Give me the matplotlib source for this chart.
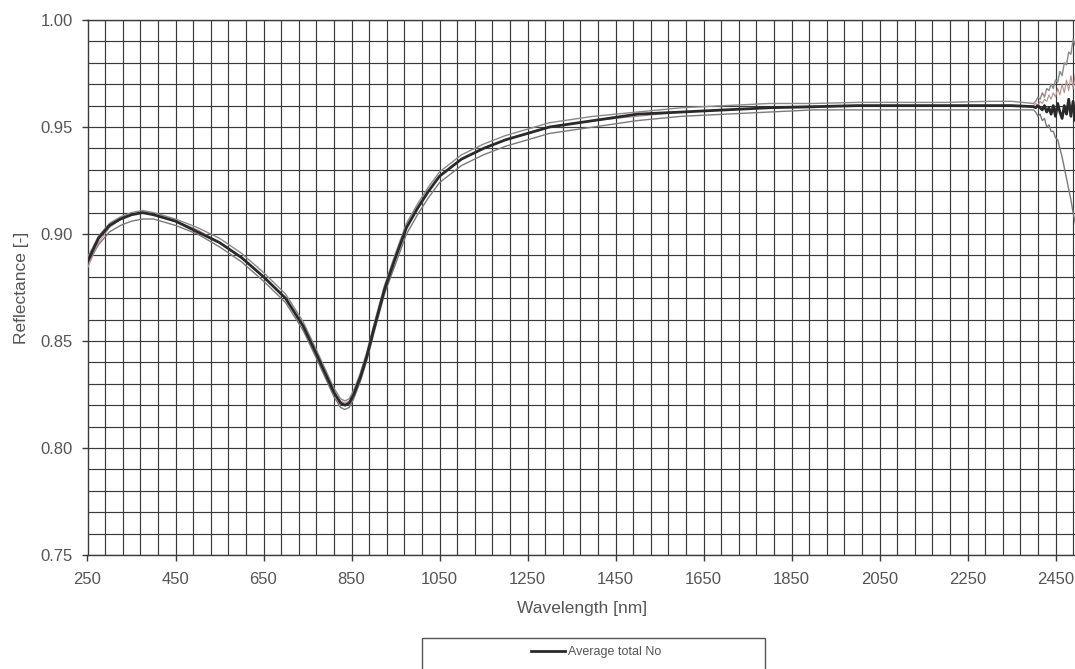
import matplotlib
matplotlib.use("Agg")
import matplotlib.pyplot as plt
from matplotlib.patches import Rectangle
from matplotlib.ticker import MultipleLocator, FixedLocator

plt.rcParams['font.family'] = ['Liberation Sans', 'DejaVu Sans']

# ---------------- data ----------------
wavelength_nm = [250, 275, 300, 325, 350, 375, 400, 450, 500, 550, 600, 650, 700,
                 740, 770, 790, 810, 825, 835, 845, 855, 870, 885, 900, 925, 950,
                 975, 1000, 1025, 1050, 1100, 1150, 1200, 1250, 1300, 1400, 1500,
                 1600, 1700, 1800, 1900, 2000, 2100, 2200, 2300, 2350,
                 2400, 2405, 2410, 2415, 2420, 2425, 2430, 2435, 2440, 2445, 2450,
                 2455, 2460, 2465, 2470, 2475, 2480, 2485, 2490, 2495, 2500]

sample_upper = [0.889, 0.899, 0.905, 0.908, 0.910, 0.911, 0.910, 0.907, 0.903, 0.898,
                0.891, 0.882, 0.872, 0.859, 0.846, 0.837, 0.828, 0.823, 0.822, 0.823,
                0.827, 0.835, 0.845, 0.857, 0.876, 0.891, 0.905, 0.914, 0.922, 0.929,
                0.937, 0.942, 0.946, 0.949, 0.952, 0.955, 0.957, 0.959, 0.960, 0.961,
                0.961, 0.9615, 0.9615, 0.9615, 0.962, 0.962,
                0.961, 0.962, 0.964, 0.963, 0.966, 0.964, 0.968, 0.967, 0.970, 0.968,
                0.972, 0.971, 0.976, 0.974, 0.980, 0.979, 0.985, 0.984, 0.991, 0.988, 0.993]

sample_lower = [0.886, 0.895, 0.901, 0.904, 0.906, 0.907, 0.907, 0.904, 0.900, 0.894,
                0.887, 0.878, 0.868, 0.855, 0.842, 0.833, 0.824, 0.819, 0.818, 0.819,
                0.823, 0.831, 0.841, 0.853, 0.872, 0.886, 0.900, 0.909, 0.917, 0.924,
                0.932, 0.937, 0.941, 0.944, 0.947, 0.950, 0.953, 0.955, 0.956, 0.957,
                0.958, 0.958, 0.958, 0.958, 0.958, 0.958,
                0.958, 0.957, 0.955, 0.956, 0.953, 0.954, 0.950, 0.951, 0.948, 0.948,
                0.945, 0.944, 0.940, 0.936, 0.931, 0.926, 0.921, 0.916, 0.910, 0.905, 0.900]

sample_red = [0.884, 0.896, 0.903, 0.907, 0.909, 0.910, 0.909, 0.906, 0.902, 0.896,
              0.889, 0.880, 0.870, 0.857, 0.844, 0.835, 0.826, 0.822, 0.821, 0.822,
              0.826, 0.834, 0.844, 0.856, 0.874, 0.889, 0.903, 0.912, 0.920, 0.927,
              0.935, 0.940, 0.944, 0.947, 0.950, 0.953, 0.955, 0.957, 0.958, 0.959,
              0.959, 0.960, 0.960, 0.960, 0.960, 0.960,
              0.960, 0.961, 0.960, 0.962, 0.961, 0.963, 0.962, 0.965, 0.963, 0.966,
              0.964, 0.968, 0.965, 0.970, 0.966, 0.972, 0.967, 0.974, 0.968, 0.975, 0.969]

average_total_no = [0.887, 0.898, 0.904, 0.907, 0.909, 0.910, 0.909, 0.906, 0.901, 0.896,
                    0.889, 0.880, 0.870, 0.857, 0.844, 0.835, 0.826, 0.821, 0.820, 0.821,
                    0.825, 0.833, 0.843, 0.855, 0.874, 0.889, 0.903, 0.912, 0.920, 0.927,
                    0.935, 0.940, 0.944, 0.947, 0.950, 0.953, 0.956, 0.957, 0.958, 0.959,
                    0.9595, 0.960, 0.960, 0.960, 0.960, 0.960,
                    0.9595, 0.959, 0.960, 0.959, 0.958, 0.960, 0.957, 0.959, 0.956, 0.960,
                    0.955, 0.961, 0.957, 0.954, 0.960, 0.956, 0.963, 0.955, 0.962, 0.953, 0.958]

x_ticks = [250, 450, 650, 850, 1050, 1250, 1450, 1650, 1850, 2050, 2250, 2450]
y_ticks = [0.75, 0.80, 0.85, 0.90, 0.95, 1.00]
legend_label = "Average total No"

# ---------------- figure ----------------
W, H = 1075, 669
fig = plt.figure(figsize=(W / 100, H / 100), dpi=100)
fig.patch.set_facecolor('white')

left_px, right_px, top_px, bottom_px = 87.5, 1077.5, 20, 555
ax = fig.add_axes([left_px / W, 1 - bottom_px / H,
                   (right_px - left_px) / W, (bottom_px - top_px) / H])

grid_c = '#3a3a3a'
text_c = '#555555'

ax.set_xlim(250, 2500)
ax.set_ylim(0.75, 1.00)

ax.xaxis.set_major_locator(FixedLocator(x_ticks))
ax.xaxis.set_minor_locator(MultipleLocator(40, offset=10))
ax.yaxis.set_major_locator(FixedLocator(y_ticks))
ax.yaxis.set_minor_locator(MultipleLocator(0.01))
ax.set_yticklabels([f"{v:.2f}" for v in y_ticks])
ax.set_xticklabels([str(v) for v in x_ticks])

ax.grid(which='both', color=grid_c, linewidth=0.85)
ax.set_axisbelow(True)
ax.tick_params(which='major', direction='out', length=4.5, width=1.0,
               color=grid_c, labelsize=12, labelcolor=text_c)
ax.tick_params(axis='x', which='major', pad=8)
ax.tick_params(axis='y', which='major', pad=6)
ax.tick_params(which='minor', length=0)

for s in ['left', 'bottom', 'top']:
    ax.spines[s].set_color(grid_c)
    ax.spines[s].set_linewidth(1.0)
ax.spines['right'].set_visible(False)

ax.plot(wavelength_nm, sample_upper, color='#8a8a8a', lw=1.0, zorder=3)
ax.plot(wavelength_nm, sample_lower, color='#7a7a7a', lw=1.0, zorder=3)
ax.plot(wavelength_nm, sample_red, color='#b89090', lw=0.8, zorder=3)
ax.plot(wavelength_nm, average_total_no, color='#2a2a2a', lw=2.0, zorder=4,
        label=legend_label)

ax.set_xlabel("Wavelength [nm]", fontsize=12.5, color=text_c, labelpad=10)
ax.set_ylabel("Reflectance [-]", fontsize=12.5, color=text_c, labelpad=8)

# legend box (partially below the figure edge, as in the reference)
box = Rectangle((422 / W, 1 - 680 / H), (765 - 422) / W, (680 - 638) / H,
                transform=fig.transFigure, facecolor='white',
                edgecolor='#555555', linewidth=1.0)
fig.patches.append(box)
handles, labels = ax.get_legend_handles_labels()
fig.legend(handles, labels, loc='center', bbox_to_anchor=(596 / W, 1 - 652 / H),
           frameon=False, fontsize=9, handlelength=2.7, handletextpad=0.2,
           labelcolor=text_c)

fig.savefig("out.png", dpi=100, facecolor='white')
